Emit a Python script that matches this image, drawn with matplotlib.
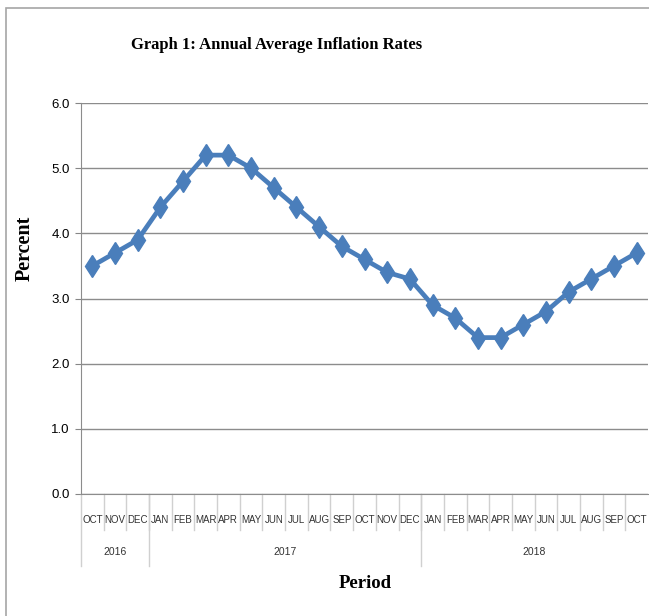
import matplotlib
matplotlib.use("Agg")
import matplotlib.pyplot as plt
from matplotlib.patches import Rectangle
import matplotlib.transforms as mtransforms

months = ["OCT", "NOV", "DEC", "JAN", "FEB", "MAR", "APR", "MAY", "JUN", "JUL", "AUG", "SEP",
          "OCT", "NOV", "DEC", "JAN", "FEB", "MAR", "APR", "MAY", "JUN", "JUL", "AUG", "SEP", "OCT"]
years = ["2016", "2017", "2018"]
year_counts = [3, 12, 10]
rates = [3.5, 3.7, 3.9, 4.4, 4.8, 5.2, 5.2, 5.0, 4.7, 4.4, 4.1, 3.8,
         3.6, 3.4, 3.3, 2.9, 2.7, 2.4, 2.4, 2.6, 2.8, 3.1, 3.3, 3.5, 3.7]
yticks = [0.0, 1.0, 2.0, 3.0, 4.0, 5.0, 6.0]

narrow = ["Liberation Sans Narrow", "Liberation Sans", "DejaVu Sans"]
serif = ["Liberation Serif", "DejaVu Serif"]

W, H = 649, 616
fig = plt.figure(figsize=(W / 100, H / 100), dpi=100)
ax = fig.add_axes([81 / W, (H - 494) / H, 567 / W, (494 - 103) / H])

x = list(range(len(rates)))
ax.plot(x, rates, color="#4A7EBB", lw=3.4, marker="d", ms=11.5, mfc="#4A7EBB",
        mec="#4A7EBB", zorder=3)

ax.set_xlim(-0.5, len(rates) - 0.5)
ax.set_ylim(0, 6)
ax.set_yticks(yticks)
ax.set_yticklabels([f"{v:.1f}" for v in yticks], fontfamily=narrow, fontsize=9.5)
ax.tick_params(axis="y", length=4, color="#868686", pad=4)
ax.set_xticks([])
ax.grid(axis="y", color="#8c8c8c", lw=1)
ax.set_axisbelow(True)
for s in ["top", "right"]:
    ax.spines[s].set_visible(False)
ax.spines["left"].set_color("#8c8c8c")
ax.spines["bottom"].set_color("#8c8c8c")

# multi-level category axis
tr = mtransforms.blended_transform_factory(ax.transData, ax.transAxes)
ah = 494 - 103
def yfrac(py):
    return -(py - 494) / ah

for i, m in enumerate(months):
    ax.text(i, yfrac(520), m, transform=tr, ha="center", va="center",
            fontfamily=narrow, fontsize=7, color="#333333")
for i in range(1, len(months)):
    ax.plot([i - 0.5, i - 0.5], [0, yfrac(530)], transform=tr, color="#d0d0d0",
            lw=1, clip_on=False)
start = 0
bounds = [-0.5]
for y, c in zip(years, year_counts):
    ax.text(start + (c - 1) / 2, yfrac(552), y, transform=tr, ha="center", va="center",
            fontfamily=narrow, fontsize=7.5, color="#333333")
    start += c
    bounds.append(start - 0.5)
for b in bounds[:-1]:
    ax.plot([b, b], [0, yfrac(566)], transform=tr, color="#d0d0d0", lw=1, clip_on=False)

fig.text(277 / W, 1 - 45 / H, "Graph 1: Annual Average Inflation Rates", ha="center",
         va="center", fontfamily=serif, fontweight="bold", fontsize=12)
fig.text(25 / W, 1 - 248 / H, "Percent", ha="center", va="center", rotation=90,
         fontfamily=serif, fontweight="bold", fontsize=14.5)
fig.text(365 / W, 1 - 583 / H, "Period", ha="center", va="center",
         fontfamily=serif, fontweight="bold", fontsize=13.5)

fig.patches.append(Rectangle((6 / W, -0.1), 1.2, 1 - 8 / H + 0.1, transform=fig.transFigure,
                             fill=False, ec="#a6a6a6", lw=1.2))

fig.savefig("out.png", dpi=100)
